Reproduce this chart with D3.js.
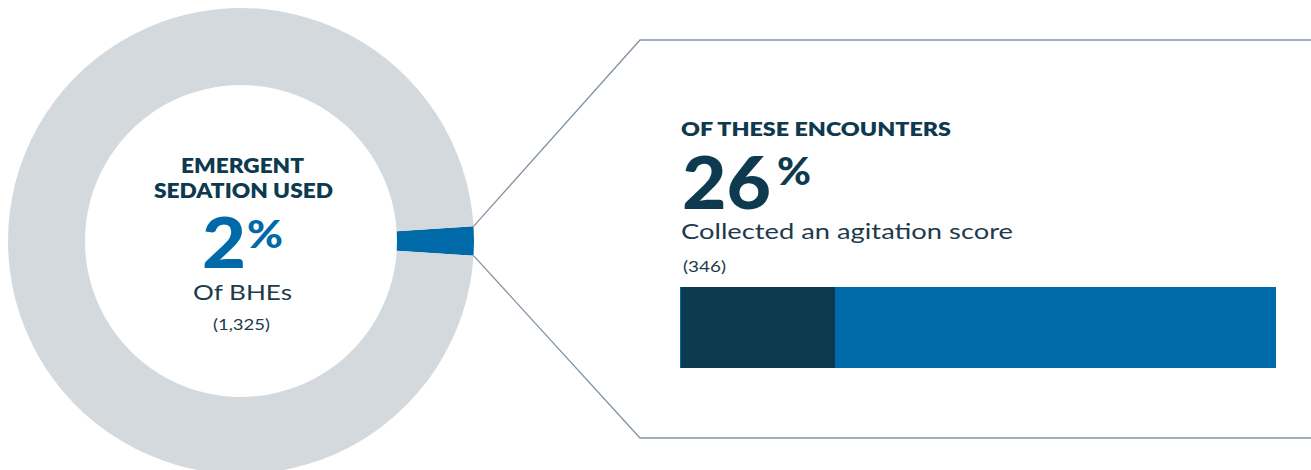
<!DOCTYPE html>
<html>
<head>
<meta charset="utf-8">
<script src="https://cdn.jsdelivr.net/npm/d3@7"></script>
<style>
  html, body { margin: 0; padding: 0; background: #ffffff; }
  svg { display: block; }
  text { font-family: Lato, "Open Sans", sans-serif; }
</style>
</head>
<body>
<svg id="chart" width="1311" height="470"></svg>
<script>
// Share of behavioural health encounters with emergent sedation
const donutLabels = ["Emergent sedation used", "Other BHEs"];
const donutValues = [2, 98];
const donutTotal = 1325;

// Of those encounters, share that collected an agitation score
const barLabels = ["Collected an agitation score", "No agitation score"];
const barValues = [26, 74];
const barTotal = 346;

const colors = { navy: "#0d3a4f", blue: "#0069a7", grey: "#d4d9dd", rule: "#8293a4", text: "#1d3b4c" };

const svg = d3.select("#chart");

// Text helper: left x, baseline y, set width (the wide geometric face is approximated by stretching)
function label(x, y, str, size, weight, fill, width) {
  const t = svg.append("text").attr("x", x).attr("y", y)
    .attr("font-size", size).attr("font-weight", weight).attr("fill", fill).text(str);
  if (width) t.attr("textLength", width).attr("lengthAdjust", "spacingAndGlyphs");
  return t;
}

// ---- Donut ----
const cx = 241, cy = 241, rOuter = 233, rInner = 156;
const sliceSpan = 2 * Math.PI * donutValues[0] / d3.sum(donutValues);
const pie = d3.pie().sort(null).value(d => d)
  .startAngle(Math.PI / 2 - sliceSpan / 2)
  .endAngle(Math.PI / 2 - sliceSpan / 2 + 2 * Math.PI);
const arcs = pie(donutValues);
const arc = d3.arc().innerRadius(rInner).outerRadius(rOuter);

const donut = svg.append("g").attr("transform", `translate(${cx},${cy})`);
donut.selectAll("path").data(arcs).join("path")
  .attr("d", arc)
  .attr("fill", (d, i) => i === 0 ? colors.blue : colors.grey);

// Centre labels
label(181, 173, "EMERGENT", 20.5, 800, colors.navy, 123);
label(154, 198, "SEDATION USED", 20.5, 800, colors.navy, 179);
label(202, 268, String(donutValues[0]), 71, 900, colors.blue, 44);
label(247, 248, "%", 38, 900, colors.blue, 36);
label(193, 300, "Of BHEs", 21, 400, colors.text, 99);
label(213, 330, `(${d3.format(",")(donutTotal)})`, 15.5, 400, colors.text, 57);

// ---- Callout connector from the slice ----
const slice = arcs[0];
const edgeA = [cx + rOuter * Math.sin(slice.startAngle), cy - rOuter * Math.cos(slice.startAngle)];
const edgeB = [cx + rOuter * Math.sin(slice.endAngle), cy - rOuter * Math.cos(slice.endAngle)];
const boxLeft = 640, boxTop = 40, boxBottom = 438, boxRight = 1311;
const line = d3.line();
svg.append("path")
  .attr("d", line([edgeA, [boxLeft, boxTop], [boxRight, boxTop]]))
  .attr("fill", "none").attr("stroke", colors.rule).attr("stroke-width", 1.3);
svg.append("path")
  .attr("d", line([edgeB, [boxLeft, boxBottom], [boxRight, boxBottom]]))
  .attr("fill", "none").attr("stroke", colors.rule).attr("stroke-width", 1.3);

// ---- Callout text ----
label(681, 136, "OF THESE ENCOUNTERS", 18.5, 800, colors.navy, 270);
label(682, 209, String(barValues[0]), 72.5, 900, colors.navy, 89);
label(777, 185, "%", 38, 900, colors.navy, 34);
label(681, 239, barLabels[0], 22, 400, colors.text, 332);
label(683, 272, `(${barTotal})`, 14.5, 400, colors.text, 43);

// ---- Stacked bar ----
const x = d3.scaleLinear().domain([0, d3.sum(barValues)]).range([680, 1276]);
const barY = 287, barH = 81;
const stacks = d3.cumsum(barValues);
const segs = barValues.map((v, i) => ({ v, x0: stacks[i] - v, x1: stacks[i] }));
svg.append("rect").attr("x", x(0)).attr("y", barY).attr("width", x(d3.sum(barValues)) - x(0)).attr("height", barH)
  .attr("fill", colors.blue);
svg.selectAll("rect.seg").data(segs.slice(0, 1)).join("rect").attr("class", "seg")
  .attr("x", d => x(d.x0) + 1).attr("y", barY)
  .attr("width", d => x(d.x1) - x(d.x0) - 1).attr("height", barH)
  .attr("fill", colors.navy);
</script>
</body>
</html>
